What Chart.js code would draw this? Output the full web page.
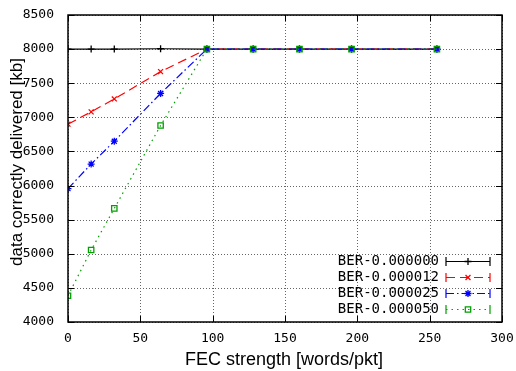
<!DOCTYPE html>
<html>
<head>
<meta charset="utf-8">
<script src="https://cdn.jsdelivr.net/npm/chart.js@4"></script>
<style>
  html, body { margin: 0; padding: 0; background: #fff; }
  #wrap { width: 516px; height: 371px; }
</style>
</head>
<body>
<div id="wrap"><canvas id="fecChart" width="516" height="371"></canvas></div>
<script>
// FEC strength (words/pkt) at which each run was taken
const fecStrength = [0, 16, 32, 64, 96, 128, 160, 196, 255];

const labels = ['BER-0.000000', 'BER-0.000012', 'BER-0.000025', 'BER-0.000050'];
const ber0 = [8000, 8000, 8000, 8005, 8000, 8000, 8000, 8000, 8000];
const ber12 = [6900, 7080, 7270, 7670, 8000, 8000, 8000, 8000, 8000];
const ber25 = [5955, 6315, 6650, 7350, 8000, 8000, 8000, 8000, 8000];
const ber50 = [4385, 5055, 5665, 6880, 8000, 8000, 8000, 8000, 8000];

const xTicks = [0, 50, 100, 150, 200, 250, 300];
const yTicks = [4000, 4500, 5000, 5500, 6000, 6500, 7000, 7500, 8000, 8500];

const mono = 'DejaVu Sans Mono';
const sans = 'Liberation Sans';

function toPoints(ys) {
  return fecStrength.map(function(x, i){ return {x: x, y: ys[i]}; });
}

const styles = [
  {color: '#000000', dash: [], point: 'cross', radius: 3.5},
  {color: '#ff0000', dash: [9, 5], point: 'crossRot', radius: 3.5},
  {color: '#0000ff', dash: [8, 3, 1.5, 3], point: 'star', radius: 3.5},
  {color: '#00a000', dash: [1.5, 4], point: 'rect', radius: 3.8}
];
const series = [ber0, ber12, ber25, ber50];

const datasets = series.map(function(ys, i){
  const s = styles[i];
  return {
    label: labels[i],
    data: toPoints(ys),
    borderColor: s.color,
    backgroundColor: 'rgba(0,0,0,0)',
    borderWidth: 1.2,
    borderDash: s.dash,
    pointStyle: s.point,
    pointRadius: s.radius,
    pointBorderWidth: 1.3,
    pointBorderColor: s.color,
    pointBackgroundColor: 'rgba(0,0,0,0)',
    order: 3 - i,
    tension: 0
  };
});

// dotted gnuplot grid
const gridPlugin = {
  id: 'dotgrid',
  beforeDatasetsDraw: function(chart){
    const ctx = chart.ctx;
    const a = chart.chartArea;
    const xs = chart.scales.x, ys = chart.scales.y;
    ctx.save();
    ctx.strokeStyle = '#666';
    ctx.lineWidth = 1;
    ctx.setLineDash([1, 2]);
    xTicks.forEach(function(t){
      const px = Math.round(xs.getPixelForValue(t)) + 0.5;
      ctx.beginPath(); ctx.moveTo(px, a.top); ctx.lineTo(px, a.bottom); ctx.stroke();
    });
    yTicks.forEach(function(t){
      const py = Math.round(ys.getPixelForValue(t)) + 0.5;
      ctx.beginPath(); ctx.moveTo(a.left, py); ctx.lineTo(a.right, py); ctx.stroke();
    });
    ctx.restore();
  }
};

// frame with inward ticks, axis titles and a key at bottom right
const framePlugin = {
  id: 'frame',
  afterDatasetsDraw: function(chart){
    const ctx = chart.ctx;
    const a = chart.chartArea;
    const xs = chart.scales.x, ys = chart.scales.y;
    ctx.save();
    ctx.strokeStyle = '#000';
    ctx.lineWidth = 1.5;
    ctx.setLineDash([]);
    ctx.strokeRect(a.left, a.top, a.right - a.left, a.bottom - a.top);
    ctx.lineWidth = 1;
    xTicks.forEach(function(t){
      const px = Math.round(xs.getPixelForValue(t)) + 0.5;
      ctx.beginPath();
      ctx.moveTo(px, a.bottom); ctx.lineTo(px, a.bottom - 6);
      ctx.moveTo(px, a.top); ctx.lineTo(px, a.top + 6);
      ctx.stroke();
    });
    yTicks.forEach(function(t){
      const py = Math.round(ys.getPixelForValue(t)) + 0.5;
      ctx.beginPath();
      ctx.moveTo(a.left, py); ctx.lineTo(a.left + 6, py);
      ctx.moveTo(a.right, py); ctx.lineTo(a.right - 6, py);
      ctx.stroke();
    });

    // axis titles
    ctx.fillStyle = '#000';
    ctx.textAlign = 'center';
    ctx.textBaseline = 'middle';
    ctx.font = '18px ' + sans;
    ctx.fillText('FEC strength [words/pkt]', 284, 360);
    ctx.save();
    ctx.translate(17, 162);
    ctx.rotate(-Math.PI / 2);
    ctx.font = '17px ' + sans;
    ctx.fillText('data correctly delivered [kb]', 0, 0);
    ctx.restore();

    // key
    ctx.font = '14px ' + mono;
    ctx.textAlign = 'right';
    ctx.textBaseline = 'middle';
    const textRight = 439, x0 = 446, x1 = 490;
    labels.forEach(function(lab, i){
      const y = 261 + i * 16;
      const s = styles[i];
      ctx.fillStyle = '#000';
      ctx.fillText(lab, textRight, y);
      ctx.strokeStyle = s.color;
      ctx.lineWidth = 1.2;
      ctx.setLineDash(s.dash);
      ctx.beginPath();
      ctx.moveTo(x0, y + 0.5); ctx.lineTo(x1, y + 0.5);
      ctx.stroke();
      ctx.setLineDash([]);
      ctx.beginPath();
      ctx.moveTo(x0, y - 4); ctx.lineTo(x0, y + 5);
      ctx.moveTo(x1, y - 4); ctx.lineTo(x1, y + 5);
      ctx.stroke();
      ctx.lineWidth = 1.3;
      ctx.fillStyle = 'rgba(0,0,0,0)';
      Chart.helpers.drawPoint(ctx, {
        pointStyle: s.point, radius: s.radius, borderWidth: 1.3
      }, (x0 + x1) / 2, y + 0.5);
    });
    ctx.restore();
  }
};

const config = {
  type: 'line',
  data: { datasets: datasets },
  options: {
    responsive: false,
    animation: false,
    layout: { padding: { top: 15, right: 14, left: 0, bottom: 0 } },
    plugins: { legend: { display: false }, tooltip: { enabled: false } },
    scales: {
      x: {
        type: 'linear',
        min: 0, max: 300,
        afterBuildTicks: function(s){ s.ticks = xTicks.map(function(v){ return {value: v}; }); },
        afterFit: function(s){ s.height = 49; s.paddingLeft = 0; s.paddingRight = 0; },
        grid: { display: false },
        border: { display: false },
        ticks: { color: '#000', padding: 1, font: { family: mono, size: 13 }, maxRotation: 0,
                 callback: function(v){ return String(v); } }
      },
      y: {
        min: 4000, max: 8500,
        afterBuildTicks: function(s){ s.ticks = yTicks.map(function(v){ return {value: v}; }); },
        afterFit: function(s){ s.width = 68; s.paddingTop = 0; s.paddingBottom = 0; },
        grid: { display: false },
        border: { display: false },
        ticks: { color: '#000', padding: 6, font: { family: mono, size: 13 },
                 callback: function(v){ return String(v); } }
      }
    }
  },
  plugins: [gridPlugin, framePlugin]
};

new Chart(document.getElementById('fecChart'), config);
</script>
</body>
</html>
